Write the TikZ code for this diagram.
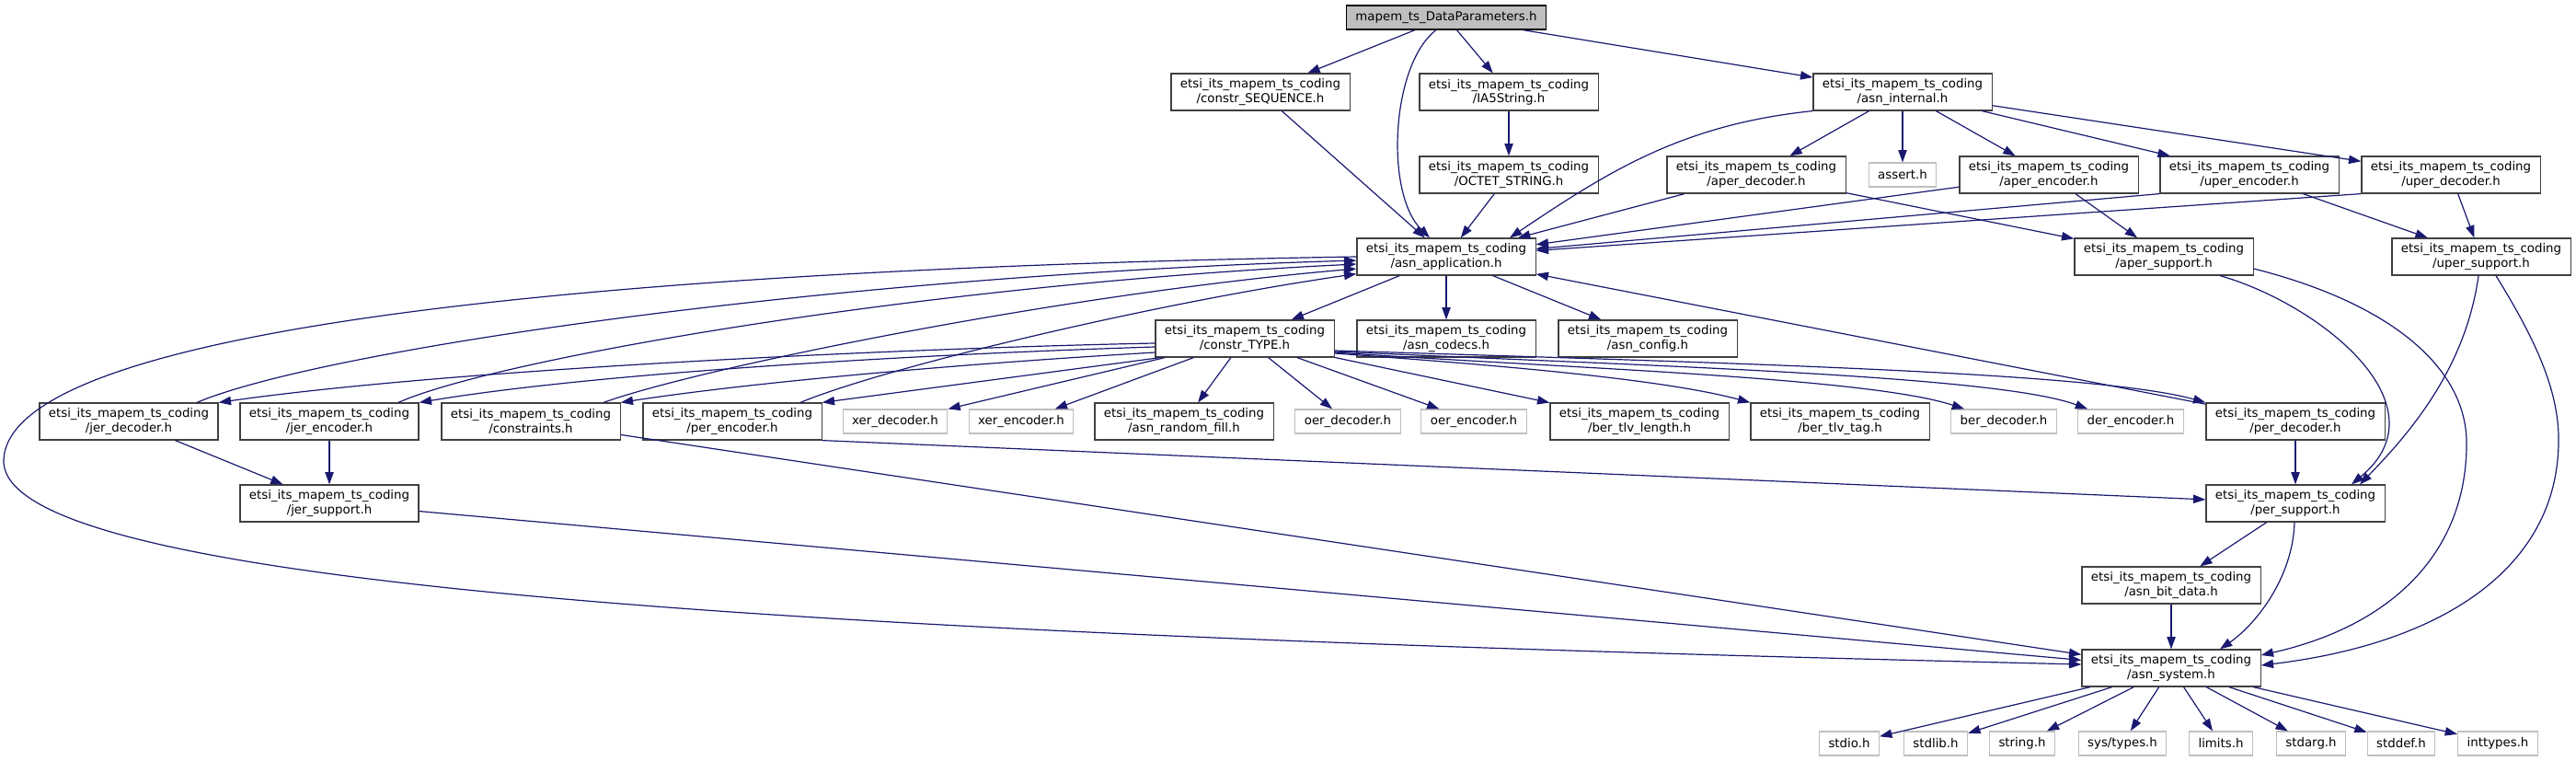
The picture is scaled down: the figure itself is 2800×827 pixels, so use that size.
\documentclass[tikz,border=0pt]{standalone}
\usepackage{fontspec}
\setmainfont{DejaVu Sans}
\usetikzlibrary{arrows.meta,calc}
\definecolor{edgeblue}{RGB}{25,25,112}
\definecolor{boxgrey}{RGB}{191,191,191}
\definecolor{boxedge}{RGB}{64,64,64}
\newcommand{\codingdir}{etsi\_its\_mapem\_ts\_coding}

\begin{document}
\begin{tikzpicture}
[x=0.75pt,y=-0.75pt,
 file/.style={rectangle,draw=boxedge,fill=white,line width=0.9pt,inner xsep=7.5pt,inner ysep=0pt,minimum height=30pt,align=center,font=\fontsize{10}{11.5}\selectfont},
 sys/.style={file,draw=boxgrey,minimum height=19.5pt},
 top/.style={file,fill=boxgrey,draw=black,minimum height=19.5pt},
 dep/.style={-{Triangle[length=10pt,width=7pt]},draw=edgeblue,fill=none,line width=0.9pt}]
\useasboundingbox (0,0) rectangle (2800,827);
% rows of files
\node[top] at (1572,19) (mapem) {mapem\_ts\_DataParameters.h};
\node[file] at (1370,100) (cseq) {\codingdir\\/constr\_SEQUENCE.h};
\node[file] at (1640,100) (ia5) {\codingdir\\/IA5String.h};
\node[file] at (2068,100) (asnint) {\codingdir\\/asn\_internal.h};
\node[file] at (1640,190) (octet) {\codingdir\\/OCTET\_STRING.h};
\node[file] at (1909,190) (aperdec) {\codingdir\\/aper\_decoder.h};
\node[sys] at (2068,190) (assert) {assert.h};
\node[file] at (2227,190) (aperenc) {\codingdir\\/aper\_encoder.h};
\node[file] at (2445,190) (uperenc) {\codingdir\\/uper\_encoder.h};
\node[file] at (2664,190) (uperdec) {\codingdir\\/uper\_decoder.h};
\node[file] at (1572,279) (asnapp) {\codingdir\\/asn\_application.h};
\node[file] at (2352,279) (apersup) {\codingdir\\/aper\_support.h};
\node[file] at (2697,279) (upersup) {\codingdir\\/uper\_support.h};
\node[file] at (1353,368) (ctype) {\codingdir\\/constr\_TYPE.h};
\node[file] at (1572,368) (codecs) {\codingdir\\/asn\_codecs.h};
\node[file] at (1791,368) (config) {\codingdir\\/asn\_config.h};
\node[file] at (140,458) (jerdec) {\codingdir\\/jer\_decoder.h};
\node[file] at (358,458) (jerenc) {\codingdir\\/jer\_encoder.h};
\node[file] at (577,458) (constr) {\codingdir\\/constraints.h};
\node[file] at (796,458) (perenc) {\codingdir\\/per\_encoder.h};
\node[sys] at (973,458) (xerdec) {xer\_decoder.h};
\node[sys] at (1110,458) (xerenc) {xer\_encoder.h};
\node[file] at (1287,458) (randfill) {\codingdir\\/asn\_random\_fill.h};
\node[sys] at (1465,458) (oerdec) {oer\_decoder.h};
\node[sys] at (1602,458) (oerenc) {oer\_encoder.h};
\node[file] at (1782,458) (bertlvlen) {\codingdir\\/ber\_tlv\_length.h};
\node[file] at (2000,458) (bertlvtag) {\codingdir\\/ber\_tlv\_tag.h};
\node[sys] at (2178,458) (berdec) {ber\_decoder.h};
\node[sys] at (2316,458) (derenc) {der\_encoder.h};
\node[file] at (2495,458) (perdec) {\codingdir\\/per\_decoder.h};
\node[file] at (358,547) (jersup) {\codingdir\\/jer\_support.h};
\node[file] at (2495,547) (persup) {\codingdir\\/per\_support.h};
\node[file] at (2360,636) (bitdata) {\codingdir\\/asn\_bit\_data.h};
\node[file] at (2360,726) (asnsys) {\codingdir\\/asn\_system.h};
\node[sys] at (2010,808) (stdio) {stdio.h};
\node[sys] at (2104,808) (stdlib) {stdlib.h};
\node[sys] at (2198,808) (string) {string.h};
\node[sys] at (2307,808) (systypes) {sys/types.h};
\node[sys] at (2414,808) (limits) {limits.h};
\node[sys] at (2512,808) (stdarg) {stdarg.h};
\node[sys] at (2610,808) (stddef) {stddef.h};
\node[sys] at (2715,808) (inttypes) {inttypes.h};
% includes of the top file
\draw[dep] (mapem) -- (cseq);
\draw[dep] ($(mapem.south)+(-11,0)$) .. controls (1512,70) and (1505,210) .. ($(asnapp.north)+(-18,0)$);
\draw[dep] (mapem) -- (ia5);
\draw[dep] (mapem) -- (asnint);
\draw[dep] (cseq) -- (asnapp);
\draw[dep] (ia5) -- (octet);
\draw[dep] (octet) -- (asnapp);
% asn_internal.h and the codecs
\draw[dep] (asnint.south west) .. controls (1830,135) and (1750,185) .. ($(asnapp.north)+(69,0)$);
\draw[dep] (asnint) -- (aperdec);
\draw[dep] (asnint) -- (assert);
\draw[dep] (asnint) -- (aperenc);
\draw[dep] (asnint) -- (uperenc);
\draw[dep] (asnint) -- (uperdec);
\draw[dep] (aperdec) -- (asnapp);
\draw[dep] (aperdec) -- (apersup);
\draw[dep] (aperenc) -- (asnapp);
\draw[dep] (uperenc.south west) -- (asnapp);
\draw[dep] (uperdec.south west) -- (asnapp);
\draw[dep] (aperenc) -- (apersup);
\draw[dep] (uperenc) -- (upersup);
\draw[dep] (uperdec) -- (upersup);
\draw[dep] ($(apersup.south)+(61,0)$) .. controls (2520,330) and (2660,440) .. ($(persup.north)+(61,0)$);
\draw[dep] ($(apersup.east)+(0,13)$) .. controls (2600,330) and (2680,400) .. (2681,480) .. controls (2682,600) and (2600,680) .. ($(asnsys.east)+(0,-14)$);
\draw[dep] ($(upersup.south)+(-3,0)$) .. controls (2680,400) and (2620,470) .. ($(persup.north)+(70,0)$);
\draw[dep] ($(upersup.south)+(16,0)$) .. controls (2750,360) and (2782,420) .. (2781,480) .. controls (2780,620) and (2650,700) .. ($(asnsys.east)+(0,-3)$);
% asn_application.h
\draw[dep] (asnapp) -- (ctype);
\draw[dep] (asnapp) -- (codecs);
\draw[dep] (asnapp) -- (config);
\draw[dep] (asnapp.west) .. controls (800,290) and (10,340) .. (4,500) .. controls (0,640) and (900,690) .. ($(asnsys.west)+(0,-4)$);
\draw[dep] ($(jerdec.north)+(74,0)$) .. controls (350,380) and (900,300) .. ($(asnapp.west)+(0,4)$);
\draw[dep] ($(jerenc.north)+(75,0)$) .. controls (540,390) and (1000,310) .. ($(asnapp.west)+(0,8)$);
\draw[dep] ($(constr.north)+(79,0)$) .. controls (760,400) and (1150,320) .. ($(asnapp.west)+(0,13)$);
\draw[dep] ($(perenc.north)+(74,0)$) .. controls (960,400) and (1250,330) .. ($(asnapp.south west)+(0,-2)$);
\draw[dep] (perdec) -- (asnapp);
% constr_TYPE.h
\draw[dep] ($(ctype.west)+(0,5)$) .. controls (1000,378) and (500,400) .. (jerdec.north east);
\draw[dep] ($(ctype.west)+(0,9)$) .. controls (1000,385) and (650,405) .. (jerenc.north east);
\draw[dep] ($(ctype.west)+(0,15)$) .. controls (1050,395) and (820,415) .. (constr.north east);
\draw[dep] ($(ctype.south west)+(6,0)$) -- (perenc.north east);
\draw[dep] (ctype) -- (xerdec);
\draw[dep] (ctype) -- (xerenc);
\draw[dep] (ctype) -- (randfill);
\draw[dep] (ctype) -- (oerdec);
\draw[dep] (ctype) -- (oerenc);
\draw[dep] (ctype) -- (bertlvlen);
\draw[dep] ($(ctype.east)+(0,16)$) .. controls (1600,395) and (1800,410) .. (bertlvtag.north west);
\draw[dep] ($(ctype.east)+(0,15)$) .. controls (1700,400) and (2030,410) .. ($(berdec.north west)+(15,0)$);
\draw[dep] ($(ctype.east)+(0,14)$) .. controls (1800,398) and (2170,408) .. ($(derenc.north west)+(11,0)$);
\draw[dep] ($(ctype.east)+(0,13)$) .. controls (1900,395) and (2280,405) .. (perdec.north west);
% support files
\draw[dep] (jerdec) -- (jersup);
\draw[dep] (jerenc) -- (jersup);
\draw[dep] (jersup) -- (asnsys);
\draw[dep] (constr) -- (asnsys);
\draw[dep] (perenc.south east) -- (persup);
\draw[dep] (perdec) -- (persup);
\draw[dep] (persup) -- (bitdata);
\draw[dep] ($(persup.south)+(-1,0)$) .. controls (2492,630) and (2450,680) .. ($(asnsys.north)+(53,0)$);
\draw[dep] (bitdata) -- (asnsys);
% system headers
\draw[dep] (asnsys) -- (stdio);
\draw[dep] (asnsys) -- (stdlib);
\draw[dep] (asnsys) -- (string);
\draw[dep] (asnsys) -- (systypes);
\draw[dep] (asnsys) -- (limits);
\draw[dep] (asnsys) -- (stdarg);
\draw[dep] (asnsys) -- (stddef);
\draw[dep] (asnsys) -- (inttypes);
\end{tikzpicture}
\end{document}
